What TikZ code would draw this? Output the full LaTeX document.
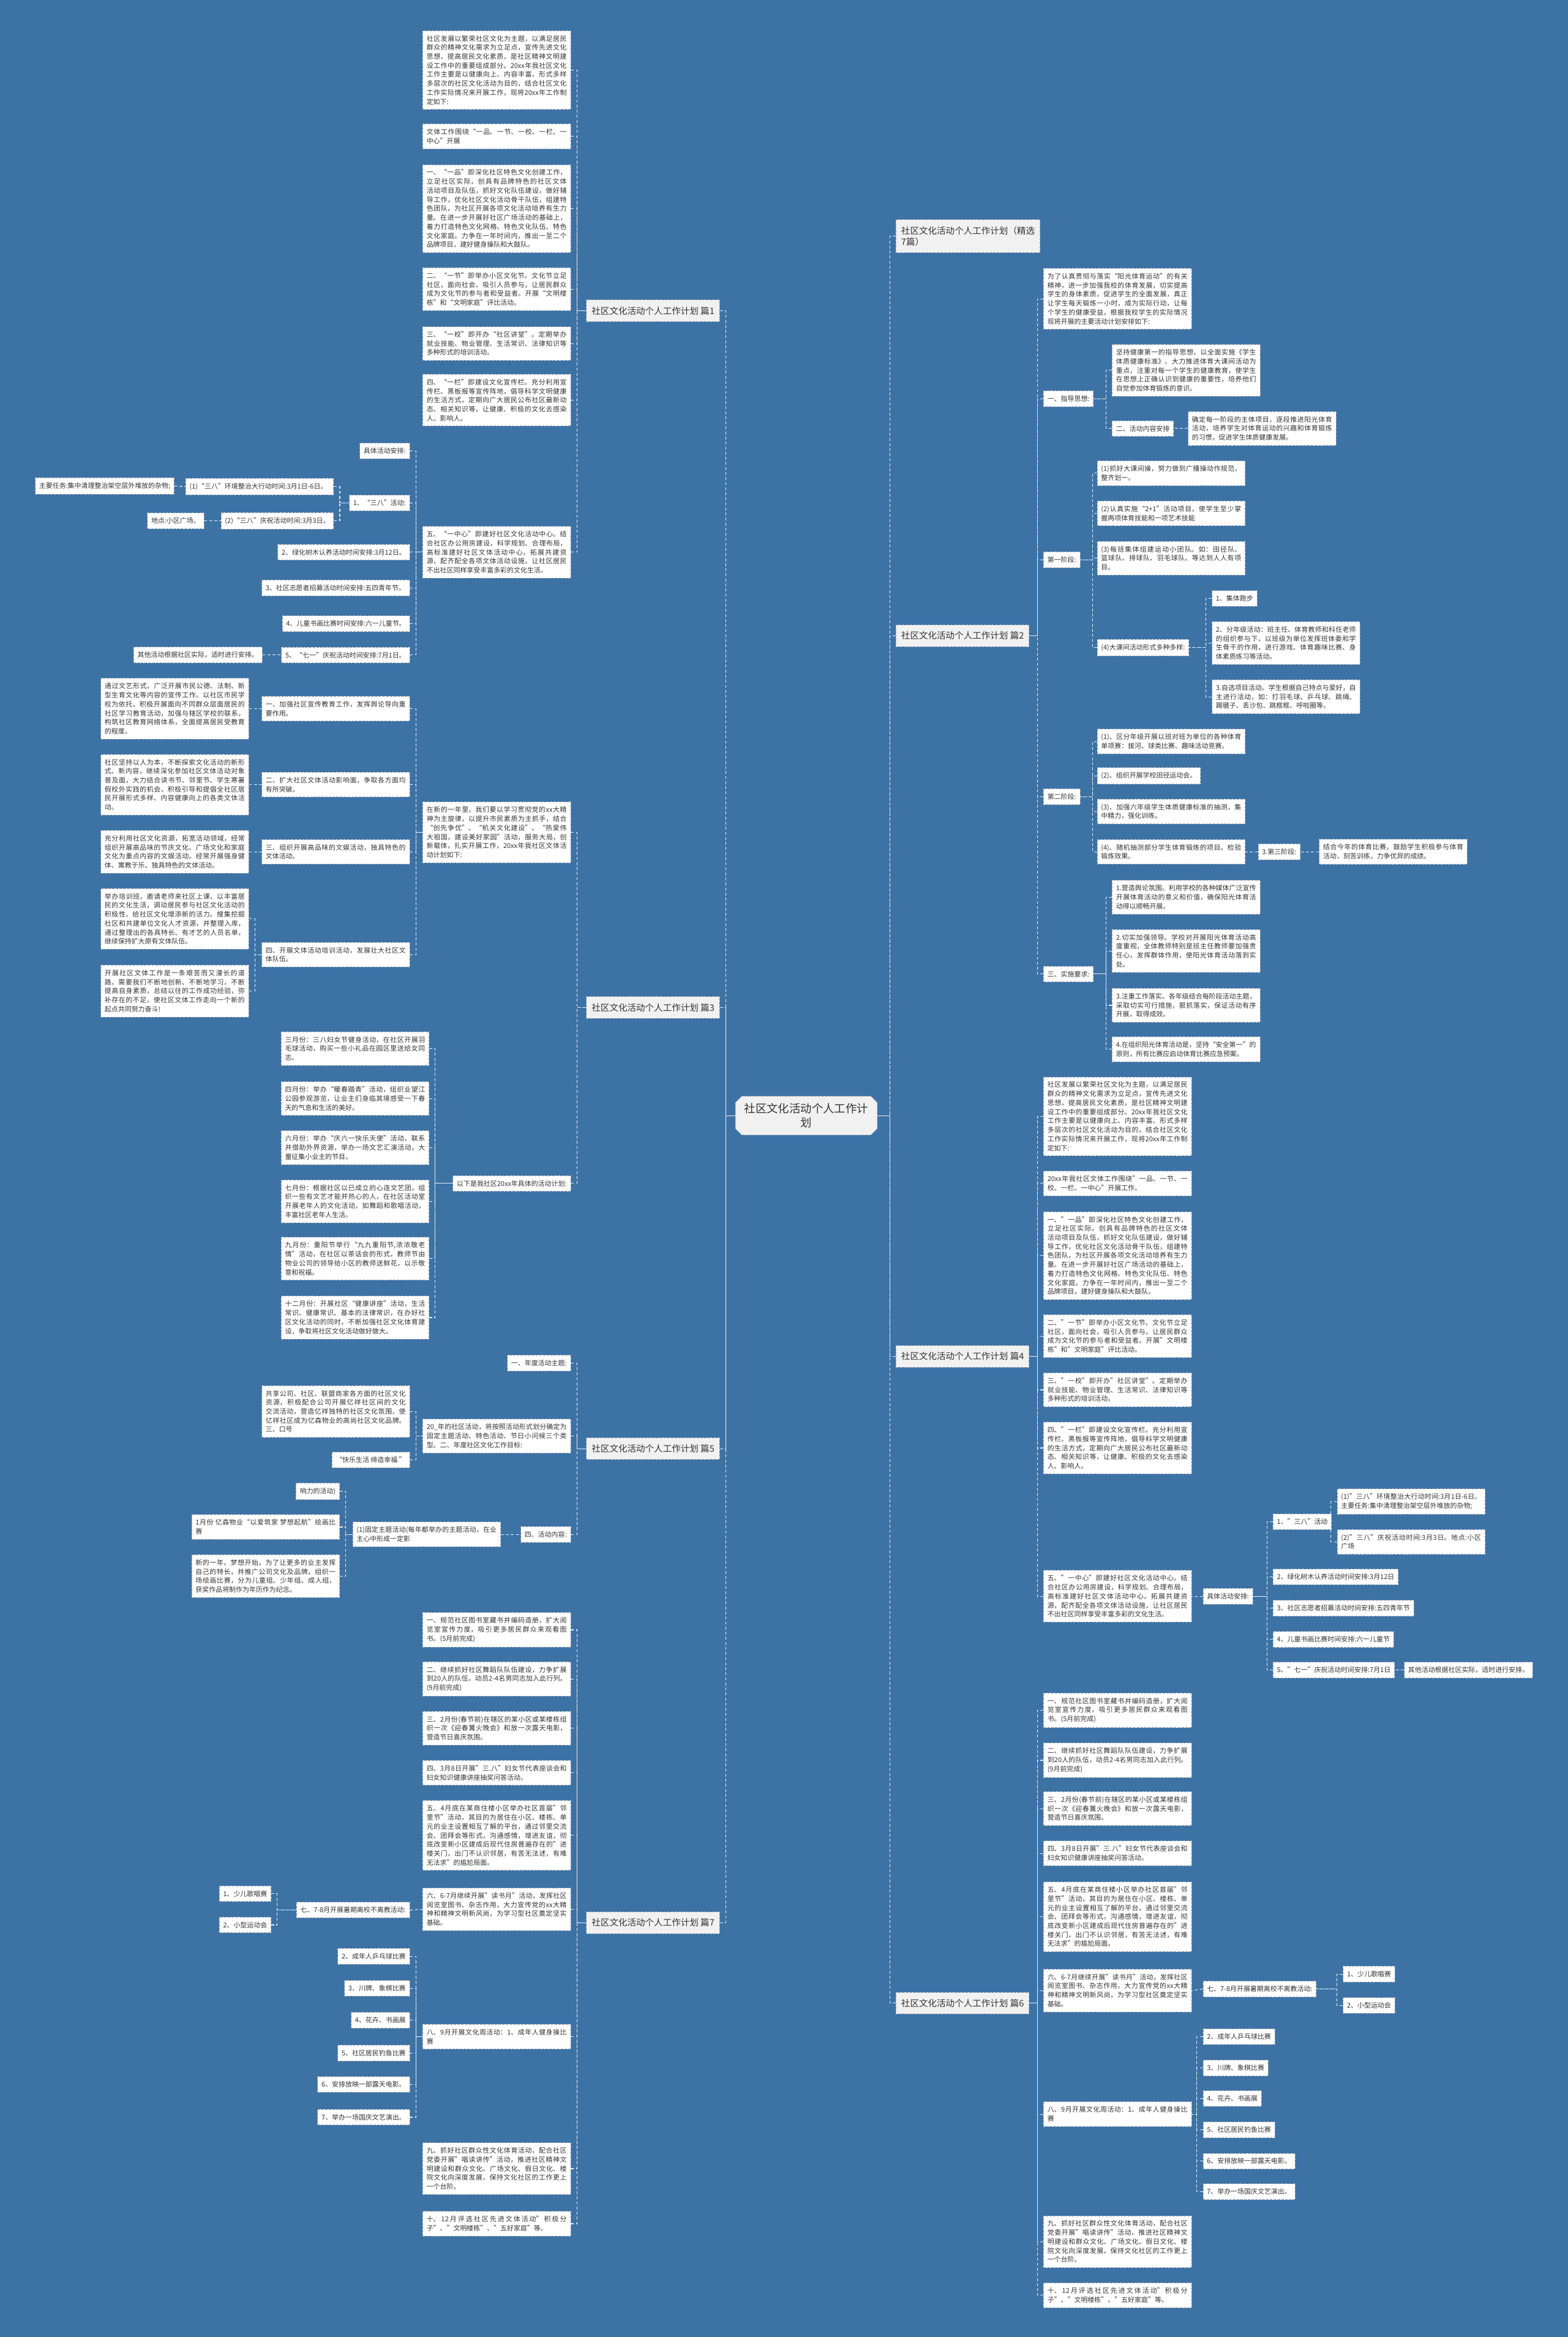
\documentclass[tikz,border=0pt]{standalone}
\usepackage{fontspec}
\setmainfont{Noto Sans CJK SC}
\XeTeXlinebreaklocale "zh"
\XeTeXlinebreakskip=0pt plus 1pt
\usepackage{tikz}
\usetikzlibrary{shapes.misc}

\definecolor{bgblue}{HTML}{3D72A5}
\definecolor{boxline}{HTML}{9AA6B4}
\definecolor{pianfill}{HTML}{F1F1F1}
\definecolor{txtgray}{HTML}{333333}
\definecolor{wirecol}{HTML}{E6EDF5}

\tikzset{
  wire/.style={draw=wirecol, line width=0.45mm, dash pattern=on 2mm off 1.4mm},
  boxbase/.style={draw=boxline, line width=0.35mm, dash pattern=on 1.6mm off 0.9mm,
    text=txtgray, fill=white, inner xsep=2.6mm, inner ysep=3.2mm,
    font=\fontsize{12.8pt}{17.2pt}\selectfont},
  leafbox/.style={boxbase, text width=94mm, align=justify},
  tagbox/.style={boxbase, align=left},
  lleaf/.style={leafbox, anchor=east},
  rleaf/.style={leafbox, anchor=west},
  ltag/.style={tagbox, anchor=east},
  rtag/.style={tagbox, anchor=west},
  pianbox/.style={boxbase, fill=pianfill, inner xsep=3.5mm, inner ysep=4.5mm,
    font=\fontsize{17pt}{21.3pt}\selectfont, align=left},
  hubnode/.style={boxbase, chamfered rectangle, chamfered rectangle xsep=3mm,
    fill=pianfill, align=center, inner xsep=3mm, inner ysep=3.5mm,
    font=\fontsize{21.5pt}{27pt}\selectfont},
}

\begin{document}
\begin{tikzpicture}[x=1mm, y=-1mm]
\fill[bgblue] (0,0) rectangle (1052,1568);
\useasboundingbox (0,0) rectangle (1052,1568);

% centre and the eight titles
\node[hubnode] (root) at (541,748.5) {社区文化活动个人工作计\\划};
\node[pianbox, anchor=west] (p0) at (601,158.5) {社区文化活动个人工作计划（精选\\7篇）};
\node[pianbox, anchor=west] (p2) at (601,426.5) {社区文化活动个人工作计划 篇2};
\node[pianbox, anchor=west] (p4) at (601,910) {社区文化活动个人工作计划 篇4};
\node[pianbox, anchor=west] (p6) at (601,1344) {社区文化活动个人工作计划 篇6};
\node[pianbox, anchor=east] (p1) at (483,208.5) {社区文化活动个人工作计划 篇1};
\node[pianbox, anchor=east] (p3) at (483,676) {社区文化活动个人工作计划 篇3};
\node[pianbox, anchor=east] (p5) at (483,972) {社区文化活动个人工作计划 篇5};
\node[pianbox, anchor=east] (p7) at (483,1290) {社区文化活动个人工作计划 篇7};

% 篇1
\node[lleaf] (p1a) at (383,47) {社区发展以繁荣社区文化为主题，以满足居民群众的精神文化需求为立足点，宣传先进文化思想，提高居民文化素质，是社区精神文明建设工作中的重要组成部分。20xx年我社区文化工作主要是以健康向上、内容丰富、形式多样多层次的社区文化活动为目的，结合社区文化工作实际情况来开展工作，现将20xx年工作制定如下:};
\node[lleaf] (p1b) at (383,91.5) {文体工作围绕“一品、一节、一校、一栏、一中心”开展};
\node[lleaf] (p1c) at (383,140) {一、“一品”即深化社区特色文化创建工作，立足社区实际，创具有品牌特色的社区文体活动项目及队伍，抓好文化队伍建设，做好辅导工作，优化社区文化活动骨干队伍，组建特色团队，为社区开展各项文化活动培养有生力量。在进一步开展好社区广场活动的基础上，着力打造特色文化网格、特色文化队伍、特色文化家庭。力争在一年时间内，推出一至二个品牌项目，建好健身操队和大鼓队。};
\node[lleaf] (p1d) at (383,194) {二、“一节”即举办小区文化节。文化节立足社区，面向社会，吸引人员参与，让居民群众成为文化节的参与者和受益者。开展“文明楼栋”和“文明家庭”评比活动。};
\node[lleaf] (p1e) at (383,230.5) {三、“一校”即开办“社区讲堂”。定期举办就业技能、物业管理、生活常识、法律知识等多种形式的培训活动。};
\node[lleaf] (p1f) at (383,268.5) {四、“一栏”即建设文化宣传栏。充分利用宣传栏、黑板报等宣传阵地，倡导科学文明健康的生活方式，定期向广大居民公布社区最新动态、相关知识等，让健康、积极的文化去感染人、影响人。};
\node[lleaf] (p1g) at (383,370.5) {五、“一中心”即建好社区文化活动中心。结合社区办公用房建设，科学规划、合理布局，高标准建好社区文体活动中心，拓展共建资源，配齐配全各项文体活动设施，让社区居民不出社区同样享受丰富多彩的文化生活。};
\node[ltag] (p1g1) at (275,302.5) {具体活动安排:};
\node[ltag] (p1g2) at (275,337.5) {1、“三八”活动:};
\node[lleaf] (p1g2a) at (224,326.5) {(1)“三八”环境整治大行动时间:3月1日-6日。};
\node[ltag] (p1g2a1) at (117,326) {主要任务:集中清理整治架空层外堆放的杂物;};
\node[ltag] (p1g2b) at (224,349.5) {(2)“三八”庆祝活动时间:3月3日。};
\node[ltag] (p1g2b1) at (137,349.5) {地点:小区广场。};
\node[ltag] (p1g3) at (275,370.5) {2、绿化树木认养活动时间安排:3月12日。};
\node[lleaf] (p1g4) at (275,394.5) {3、社区志愿者招募活动时间安排:五四青年节。};
\node[ltag] (p1g5) at (275,418.5) {4、儿童书画比赛时间安排:六一儿童节。};
\node[ltag] (p1g6) at (275,439.5) {5、“七一”庆祝活动时间安排:7月1日。};
\node[ltag] (p1g6a) at (176,439.5) {其他活动根据社区实际，适时进行安排。};

% 篇3
\node[lleaf] (p3a) at (383,558.5) {在新的一年里，我们要以学习贯彻党的xx大精神为主旋律，以提升市民素质为主抓手，结合“创先争优”、“机关文化建设”、“热爱伟大祖国，建设美好家园”活动，服务大局，创新载体，扎实开展工作，20xx年我社区文体活动计划如下:};
\node[lleaf] (p3a1) at (275,475.5) {一、加强社区宣传教育工作，发挥舆论导向重要作用。};
\node[lleaf] (p3a1a) at (167,475.5) {通过文艺形式，广泛开展市民公德、法制、新型生育文化等内容的宣传工作。以社区市民学校为依托，积极开展面向不同群众层面居民的社区学习教育活动，加强与辖区学校的联系，构筑社区教育网络体系，全面提高居民受教育的程度。};
\node[lleaf] (p3a2) at (275,526.5) {二、扩大社区文体活动影响面，争取各方面均有所突破。};
\node[lleaf] (p3a2a) at (167,526.5) {社区坚持以人为本，不断探索文化活动的新形式、新内容，继续深化参加社区文体活动对象普及面，大力结合读书节、邻里节、学生寒暑假校外实践的机会，积极引导和提倡全社区居民开展形式多样、内容健康向上的各类文体活动。};
\node[lleaf] (p3a3) at (275,571.5) {三、组织开展高品味的文娱活动，独具特色的文体活动。};
\node[lleaf] (p3a3a) at (167,571.5) {充分利用社区文化资源，拓宽活动领域，经常组织开展高品味的节庆文化、广场文化和家庭文化为重点内容的文娱活动。经常开展强身健体、寓教于乐、独具特色的文体活动。};
\node[lleaf] (p3a4) at (275,640.5) {四、开展文体活动培训活动，发展壮大社区文体队伍。};
\node[lleaf] (p3a4a) at (167,616.5) {举办培训班，邀请老师来社区上课，以丰富居民的文化生活，调动居民参与社区文化活动的积极性，给社区文化增添新的活力。搜集挖掘社区和共建单位文化人才资源，并整理入库，通过整理出的各具特长、有才艺的人员名单，继续保持扩大原有文体队伍。};
\node[lleaf] (p3a4b) at (167,665) {开展社区文体工作是一条艰苦而又漫长的道路，需要我们不断地创新、不断地学习，不断提高自身素质，总结以往的工作成功经验，弥补存在的不足，使社区文体工作走向一个新的起点共同努力奋斗!};
\node[ltag] (p3b) at (383,794) {以下是我社区20xx年具体的活动计划:};
\node[lleaf] (p3b1) at (288,703.5) {三月份：三八妇女节健身活动，在社区开展羽毛球活动，购买一些小礼品在园区里送给女同志。};
\node[lleaf] (p3b2) at (288,737) {四月份：举办“暖春踏青”活动，组织业望江公园参观游览，让业主们身临其境感受一下春天的气息和生活的美好。};
\node[lleaf] (p3b3) at (288,770) {六月份：举办“庆六一快乐天使”活动，联系并借助外界资源，举办一场文艺汇演活动，大量征集小业主的节目。};
\node[lleaf] (p3b4) at (288,806) {七月份：根据社区以已成立的心连文艺团，组织一些有文艺才能并热心的人，在社区活动室开展老年人的文化活动，如舞蹈和歌唱活动，丰富社区老年人生活。};
\node[lleaf] (p3b5) at (288,844.5) {九月份：重阳节举行“九九重阳节,浓浓敬老情”活动，在社区以茶话会的形式，教师节由物业公司的领导给小区的教师送鲜花，以示敬意和祝福。};
\node[lleaf] (p3b6) at (288,884) {十二月份：开展社区“健康讲座”活动，生活常识、健康常识、基本的法律常识，在办好社区文化活动的同时，不断加强社区文化体育建设，争取将社区文化活动做好做大。};

% 篇5
\node[ltag] (p5a) at (383,914.5) {一、年度活动主题:};
\node[lleaf] (p5b) at (383,963.5) {20\_年的社区活动，将按照活动形式划分确定为固定主题活动、特色活动、节日小问候三个类型。二、年度社区文化工作目标:};
\node[lleaf] (p5b1) at (275,947) {共享公司、社区、联盟商家各方面的社区文化资源，积极配合公司开展亿祥社区间的文化交流活动，营造亿祥独特的社区文化氛围，使亿祥社区成为亿森物业的高尚社区文化品牌。三、口号};
\node[ltag] (p5b2) at (275,979.5) {“快乐生活 缔造幸福 ”};
\node[ltag] (p5c) at (383,1029.5) {四、活动内容:};
\node[lleaf] (p5c1) at (336,1029.5) {(1)固定主题活动(每年都举办的主题活动，在业主心中形成一定影};
\node[ltag] (p5c1a) at (228,1000.5) {响力的活动)};
\node[lleaf] (p5c1b) at (228,1024.5) {1月份 亿森物业“以爱筑家 梦想起航”绘画比赛};
\node[lleaf] (p5c1c) at (228,1057.5) {新的一年，梦想开始，为了让更多的业主发挥自己的特长，并推广公司文化及品牌，组织一场绘画比赛，分为儿童组、少年组、成人组，获奖作品将制作为年历作为纪念。};

% 篇7
\node[lleaf] (p7a) at (383,1093.5) {一、规范社区图书室藏书并编码造册，扩大阅览室宣传力度，吸引更多居民群众来观看图书。(5月前完成)};
\node[lleaf] (p7b) at (383,1126.5) {二、继续抓好社区舞蹈队队伍建设，力争扩展到20人的队伍，动员2-4名男同志加入此行列。(9月前完成)};
\node[lleaf] (p7c) at (383,1159.5) {三、2月份(春节前)在辖区的某小区或某楼栋组织一次《迎春篝火晚会》和放一次露天电影，营造节日喜庆氛围。};
\node[lleaf] (p7d) at (383,1189.5) {四、3月8日开展"三.八"妇女节代表座谈会和妇女知识健康讲座抽奖问答活动。};
\node[lleaf] (p7e) at (383,1231.5) {五、4月底在某商住楼小区举办社区首届"邻里节"活动，其目的为居住在小区、楼栋、单元的业主设置相互了解的平台，通过邻里交流会、团拜会等形式，沟通感情，增进友谊，彻底改变新小区建成后现代住房普遍存在的"进楼关门，出门不认识邻居，有苦无法述，有难无法求"的尴尬局面。};
\node[lleaf] (p7f) at (383,1281) {六、6-7月继续开展"读书月"活动，发挥社区阅览室图书、杂志作用，大力宣传党的xx大精神和精神文明新风尚，为学习型社区奠定坚实基础。};
\node[ltag] (p7f1) at (275,1281.5) {七、7-8月开展暑期离校不离教活动:};
\node[ltag] (p7f1a) at (182,1270.5) {1、少儿歌唱赛};
\node[ltag] (p7f1b) at (182,1291.5) {2、小型运动会};
\node[lleaf] (p7g) at (383,1366.5) {八、9月开展文化周活动：1、成年人健身操比赛};
\node[ltag] (p7g1) at (275,1312.5) {2、成年人乒乓球比赛};
\node[ltag] (p7g2) at (275,1334) {3、川牌、象棋比赛};
\node[ltag] (p7g3) at (275,1355.5) {4、花卉、书画展};
\node[ltag] (p7g4) at (275,1377.5) {5、社区居民钓鱼比赛};
\node[ltag] (p7g5) at (275,1398.5) {6、安排放映一部露天电影。};
\node[ltag] (p7g6) at (275,1420.5) {7、举办一场国庆文艺演出。};
\node[lleaf] (p7h) at (383,1455) {九、抓好社区群众性文化体育活动，配合社区党委开展"唱读讲传"活动，推进社区精神文明建设和群众文化、广场文化、假日文化、楼院文化向深度发展，保持文化社区的工作更上一个台阶。};
\node[lleaf] (p7i) at (383,1492) {十、12月评选社区先进文体活动"积极分子"、"文明楼栋"、"五好家庭"等。};

% 篇2
\node[rleaf] (p2a) at (700,200.5) {为了认真贯彻与落实“阳光体育运动”的有关精神，进一步加强我校的体育发展，切实提高学生的身体素质，促进学生的全面发展，真正让学生每天锻炼一小时，成为实际行动，让每个学生的健康受益，根据我校学生的实际情况现将开展的主要活动计划安排如下:};
\node[rtag] (p2b) at (700,267.5) {一、指导思想:};
\node[rleaf] (p2b1) at (746,248.5) {坚持健康第一的指导思想，以全面实施《学生体质健康标准》、大力推进体育大课间活动为重点，注重对每一个学生的健康教育，使学生在思想上正确认识到健康的重要性，培养他们自觉参加体育锻炼的意识。};
\node[rtag] (p2b2) at (746,287.5) {二、活动内容安排};
\node[rleaf] (p2b2a) at (797,287.5) {确定每一阶段的主体项目，逐段推进阳光体育活动，培养学生对体育运动的兴趣和体育锻炼的习惯，促进学生体质健康发展。};
\node[rtag] (p2c) at (700,375.5) {第一阶段:};
\node[rleaf] (p2c1) at (736,317.5) {(1)抓好大课间操，努力做到广播操动作规范，整齐划一。};
\node[rleaf] (p2c2) at (736,344.5) {(2)认真实施“2+1”活动项目，使学生至少掌握两项体育技能和一项艺术技能};
\node[rleaf] (p2c3) at (736,374.5) {(3)每班集体组建运动小团队。如：田径队、篮球队、排球队、羽毛球队、等达到人人有项目。};
\node[rtag] (p2c4) at (736,434.5) {(4)大课间活动形式多种多样:};
\node[rtag] (p2c4a) at (813,401.5) {1、集体跑步};
\node[rleaf] (p2c4b) at (813,431.5) {2、分年级活动：班主任、体育教师和科任老师的组织参与下，以班级为单位发挥班体委和学生骨干的作用，进行游戏、体育趣味比赛、身体素质练习等活动。};
\node[rleaf] (p2c4c) at (813,467.5) {3.自选项目活动。学生根据自己特点与爱好，自主进行活动，如：打羽毛球、乒乓球、跳绳、踢毽子、丢沙包、跳框框、呼啦圈等。};
\node[rtag] (p2d) at (700,534.5) {第二阶段:};
\node[rleaf] (p2d1) at (736,497.5) {(1)、区分年级开展以班对班为单位的各种体育单项赛：拔河、球类比赛、趣味活动竞赛。};
\node[rtag] (p2d2) at (736,520.5) {(2)、组织开展学校田径运动会。};
\node[rleaf] (p2d3) at (736,544.5) {(3)、加强六年级学生体质健康标准的抽测，集中精力，强化训练。};
\node[rleaf] (p2d4) at (736,571.5) {(4)、随机抽测部分学生体育锻炼的项目。检验锻炼效果。};
\node[rtag] (p2d4a) at (844,571.5) {3.第三阶段:};
\node[rleaf] (p2d4a1) at (885,571.5) {结合今年的体育比赛，鼓励学生积极参与体育活动，刻苦训练，力争优异的成绩。};
\node[rtag] (p2e) at (700,653.5) {三、实施要求:};
\node[rleaf] (p2e1) at (746,602) {1.营造舆论氛围。利用学校的各种媒体广泛宣传开展体育活动的意义和价值，确保阳光体育活动得以顺畅开展。};
\node[rleaf] (p2e2) at (746,638) {2.切实加强领导。学校对开展阳光体育活动高度重视，全体教师特别是班主任教师要加强责任心，发挥群体作用，使阳光体育活动落到实处。};
\node[rleaf] (p2e3) at (746,674.5) {3.注重工作落实。各年级结合每阶段活动主题，采取切实可行措施，狠抓落实，保证活动有序开展，取得成效。};
\node[rleaf] (p2e4) at (746,704) {4.在组织阳光体育活动是，坚持“安全第一”的原则，所有比赛应启动体育比赛应急预案。};

% 篇4
\node[rleaf] (p4a) at (700,749) {社区发展以繁荣社区文化为主题，以满足居民群众的精神文化需求为立足点，宣传先进文化思想，提高居民文化素质，是社区精神文明建设工作中的重要组成部分。20xx年我社区文化工作主要是以健康向上、内容丰富、形式多样多层次的社区文化活动为目的，结合社区文化工作实际情况来开展工作，现将20xx年工作制定如下:};
\node[rleaf] (p4b) at (700,794) {20xx年我社区文体工作围绕"一品、一节、一校、一栏、一中心"开展工作。};
\node[rleaf] (p4c) at (700,842.5) {一、"一品"即深化社区特色文化创建工作，立足社区实际，创具有品牌特色的社区文体活动项目及队伍，抓好文化队伍建设，做好辅导工作，优化社区文化活动骨干队伍，组建特色团队，为社区开展各项文化活动培养有生力量。在进一步开展好社区广场活动的基础上，着力打造特色文化网格、特色文化队伍、特色文化家庭。力争在一年时间内，推出一至二个品牌项目，建好健身操队和大鼓队。};
\node[rleaf] (p4d) at (700,896.5) {二、"一节"即举办小区文化节。文化节立足社区，面向社会，吸引人员参与，让居民群众成为文化节的参与者和受益者。开展"文明楼栋"和"文明家庭"评比活动。};
\node[rleaf] (p4e) at (700,932.5) {三、"一校"即开办"社区讲堂"。定期举办就业技能、物业管理、生活常识、法律知识等多种形式的培训活动。};
\node[rleaf] (p4f) at (700,971.5) {四、"一栏"即建设文化宣传栏。充分利用宣传栏、黑板报等宣传阵地，倡导科学文明健康的生活方式，定期向广大居民公布社区最新动态、相关知识等，让健康、积极的文化去感染人、影响人。};
\node[rleaf] (p4g) at (700,1071) {五、"一中心"即建好社区文化活动中心。结合社区办公用房建设，科学规划、合理布局，高标准建好社区文体活动中心，拓展共建资源，配齐配全各项文体活动设施，让社区居民不出社区同样享受丰富多彩的文化生活。};
\node[rtag] (p4g1) at (807,1071) {具体活动安排:};
\node[rtag] (p4g1a) at (854,1021) {1、"三八"活动};
\node[rleaf] (p4g1a1) at (897,1007.5) {(1)"三八"环境整治大行动时间:3月1日-6日。主要任务:集中清理整治架空层外堆放的杂物;};
\node[rleaf] (p4g1a2) at (897,1034.5) {(2)"三八"庆祝活动时间:3月3日。地点:小区广场};
\node[rtag] (p4g1b) at (854,1058) {2、绿化树木认养活动时间安排:3月12日};
\node[rtag] (p4g1c) at (854,1079) {3、社区志愿者招募活动时间安排:五四青年节};
\node[rtag] (p4g1d) at (854,1100) {4、儿童书画比赛时间安排:六一儿童节};
\node[rtag] (p4g1e) at (854,1120.5) {5、"七一"庆祝活动时间安排:7月1日};
\node[rtag] (p4g1e1) at (942,1120.5) {其他活动根据社区实际，适时进行安排。};

% 篇6
\node[rleaf] (p6a) at (700,1147.5) {一、规范社区图书室藏书并编码造册，扩大阅览室宣传力度，吸引更多居民群众来观看图书。(5月前完成)};
\node[rleaf] (p6b) at (700,1181) {二、继续抓好社区舞蹈队队伍建设，力争扩展到20人的队伍，动员2-4名男同志加入此行列。(9月前完成)};
\node[rleaf] (p6c) at (700,1213.5) {三、2月份(春节前)在辖区的某小区或某楼栋组织一次《迎春篝火晚会》和放一次露天电影，营造节日喜庆氛围。};
\node[rleaf] (p6d) at (700,1243.5) {四、3月8日开展"三.八"妇女节代表座谈会和妇女知识健康讲座抽奖问答活动。};
\node[rleaf] (p6e) at (700,1286) {五、4月底在某商住楼小区举办社区首届"邻里节"活动，其目的为居住在小区、楼栋、单元的业主设置相互了解的平台，通过邻里交流会、团拜会等形式，沟通感情，增进友谊，彻底改变新小区建成后现代住房普遍存在的"进楼关门，出门不认识邻居，有苦无法述，有难无法求"的尴尬局面。};
\node[rleaf] (p6f) at (700,1335.5) {六、6-7月继续开展"读书月"活动，发挥社区阅览室图书、杂志作用，大力宣传党的xx大精神和精神文明新风尚，为学习型社区奠定坚实基础。};
\node[rtag] (p6f1) at (807,1334.5) {七、7-8月开展暑期离校不离教活动:};
\node[rtag] (p6f1a) at (901,1324.5) {1、少儿歌唱赛};
\node[rtag] (p6f1b) at (901,1345.5) {2、小型运动会};
\node[rleaf] (p6g) at (700,1418.5) {八、9月开展文化周活动：1、成年人健身操比赛};
\node[rtag] (p6g1) at (807,1366.5) {2、成年人乒乓球比赛};
\node[rtag] (p6g2) at (807,1387.5) {3、川牌、象棋比赛};
\node[rtag] (p6g3) at (807,1408) {4、花卉、书画展};
\node[rtag] (p6g4) at (807,1429) {5、社区居民钓鱼比赛};
\node[rtag] (p6g5) at (807,1450) {6、安排放映一部露天电影。};
\node[rtag] (p6g6) at (807,1470.5) {7、举办一场国庆文艺演出。};
\node[rleaf] (p6h) at (700,1504) {九、抓好社区群众性文化体育活动，配合社区党委开展"唱读讲传"活动，推进社区精神文明建设和群众文化、广场文化、假日文化、楼院文化向深度发展，保持文化社区的工作更上一个台阶。};
\node[rleaf] (p6i) at (700,1540) {十、12月评选社区先进文体活动"积极分子"、"文明楼栋"、"五好家庭"等。};

% connectors, left half
\draw[wire] (p1.east) -- ++(4,0) |- (root.west);
\draw[wire] (p3.east) -- ++(4,0) |- (root.west);
\draw[wire] (p5.east) -- ++(4,0) |- (root.west);
\draw[wire] (p7.east) -- ++(4,0) |- (root.west);
\draw[wire] (p1a.east) -- ++(4,0) |- (p1.west);
\draw[wire] (p1b.east) -- ++(4,0) |- (p1.west);
\draw[wire] (p1c.east) -- ++(4,0) |- (p1.west);
\draw[wire] (p1d.east) -- ++(4,0) |- (p1.west);
\draw[wire] (p1e.east) -- ++(4,0) |- (p1.west);
\draw[wire] (p1f.east) -- ++(4,0) |- (p1.west);
\draw[wire] (p1g.east) -- ++(4,0) |- (p1.west);
\draw[wire] (p1g1.east) -- ++(4,0) |- (p1g.west);
\draw[wire] (p1g2.east) -- ++(4,0) |- (p1g.west);
\draw[wire] (p1g3.east) -- ++(4,0) |- (p1g.west);
\draw[wire] (p1g4.east) -- ++(4,0) |- (p1g.west);
\draw[wire] (p1g5.east) -- ++(4,0) |- (p1g.west);
\draw[wire] (p1g6.east) -- ++(4,0) |- (p1g.west);
\draw[wire] (p1g2a.east) -- ++(4,0) |- (p1g2.west);
\draw[wire] (p1g2b.east) -- ++(4,0) |- (p1g2.west);
\draw[wire] (p1g2a1.east) -- (p1g2a.west);
\draw[wire] (p1g2b1.east) -- (p1g2b.west);
\draw[wire] (p1g6a.east) -- (p1g6.west);
\draw[wire] (p3a.east) -- ++(4,0) |- (p3.west);
\draw[wire] (p3b.east) -- ++(4,0) |- (p3.west);
\draw[wire] (p3a1.east) -- ++(4,0) |- (p3a.west);
\draw[wire] (p3a2.east) -- ++(4,0) |- (p3a.west);
\draw[wire] (p3a3.east) -- ++(4,0) |- (p3a.west);
\draw[wire] (p3a4.east) -- ++(4,0) |- (p3a.west);
\draw[wire] (p3a1a.east) -- (p3a1.west);
\draw[wire] (p3a2a.east) -- (p3a2.west);
\draw[wire] (p3a3a.east) -- (p3a3.west);
\draw[wire] (p3a4a.east) -- ++(4,0) |- (p3a4.west);
\draw[wire] (p3a4b.east) -- ++(4,0) |- (p3a4.west);
\draw[wire] (p3b1.east) -- ++(4,0) |- (p3b.west);
\draw[wire] (p3b2.east) -- ++(4,0) |- (p3b.west);
\draw[wire] (p3b3.east) -- ++(4,0) |- (p3b.west);
\draw[wire] (p3b4.east) -- ++(4,0) |- (p3b.west);
\draw[wire] (p3b5.east) -- ++(4,0) |- (p3b.west);
\draw[wire] (p3b6.east) -- ++(4,0) |- (p3b.west);
\draw[wire] (p5a.east) -- ++(4,0) |- (p5.west);
\draw[wire] (p5b.east) -- ++(4,0) |- (p5.west);
\draw[wire] (p5c.east) -- ++(4,0) |- (p5.west);
\draw[wire] (p5b1.east) -- ++(4,0) |- (p5b.west);
\draw[wire] (p5b2.east) -- ++(4,0) |- (p5b.west);
\draw[wire] (p5c1.east) -- (p5c.west);
\draw[wire] (p5c1a.east) -- ++(4,0) |- (p5c1.west);
\draw[wire] (p5c1b.east) -- ++(4,0) |- (p5c1.west);
\draw[wire] (p5c1c.east) -- ++(4,0) |- (p5c1.west);
\draw[wire] (p7a.east) -- ++(4,0) |- (p7.west);
\draw[wire] (p7b.east) -- ++(4,0) |- (p7.west);
\draw[wire] (p7c.east) -- ++(4,0) |- (p7.west);
\draw[wire] (p7d.east) -- ++(4,0) |- (p7.west);
\draw[wire] (p7e.east) -- ++(4,0) |- (p7.west);
\draw[wire] (p7f.east) -- ++(4,0) |- (p7.west);
\draw[wire] (p7g.east) -- ++(4,0) |- (p7.west);
\draw[wire] (p7h.east) -- ++(4,0) |- (p7.west);
\draw[wire] (p7i.east) -- ++(4,0) |- (p7.west);
\draw[wire] (p7f1.east) -- (p7f.west);
\draw[wire] (p7f1a.east) -- ++(4,0) |- (p7f1.west);
\draw[wire] (p7f1b.east) -- ++(4,0) |- (p7f1.west);
\draw[wire] (p7g1.east) -- ++(4,0) |- (p7g.west);
\draw[wire] (p7g2.east) -- ++(4,0) |- (p7g.west);
\draw[wire] (p7g3.east) -- ++(4,0) |- (p7g.west);
\draw[wire] (p7g4.east) -- ++(4,0) |- (p7g.west);
\draw[wire] (p7g5.east) -- ++(4,0) |- (p7g.west);
\draw[wire] (p7g6.east) -- ++(4,0) |- (p7g.west);

% connectors, right half
\draw[wire] (p0.west) -- ++(-4,0) |- (root.east);
\draw[wire] (p2.west) -- ++(-4,0) |- (root.east);
\draw[wire] (p4.west) -- ++(-4,0) |- (root.east);
\draw[wire] (p6.west) -- ++(-4,0) |- (root.east);
\draw[wire] (p2a.west) -- ++(-4,0) |- (p2.east);
\draw[wire] (p2b.west) -- ++(-4,0) |- (p2.east);
\draw[wire] (p2c.west) -- ++(-4,0) |- (p2.east);
\draw[wire] (p2d.west) -- ++(-4,0) |- (p2.east);
\draw[wire] (p2e.west) -- ++(-4,0) |- (p2.east);
\draw[wire] (p2b1.west) -- ++(-4,0) |- (p2b.east);
\draw[wire] (p2b2.west) -- ++(-4,0) |- (p2b.east);
\draw[wire] (p2b2a.west) -- (p2b2.east);
\draw[wire] (p2c1.west) -- ++(-3,0) |- (p2c.east);
\draw[wire] (p2c2.west) -- ++(-3,0) |- (p2c.east);
\draw[wire] (p2c3.west) -- ++(-3,0) |- (p2c.east);
\draw[wire] (p2c4.west) -- ++(-3,0) |- (p2c.east);
\draw[wire] (p2c4a.west) -- ++(-4,0) |- (p2c4.east);
\draw[wire] (p2c4b.west) -- ++(-4,0) |- (p2c4.east);
\draw[wire] (p2c4c.west) -- ++(-4,0) |- (p2c4.east);
\draw[wire] (p2d1.west) -- ++(-3,0) |- (p2d.east);
\draw[wire] (p2d2.west) -- ++(-3,0) |- (p2d.east);
\draw[wire] (p2d3.west) -- ++(-3,0) |- (p2d.east);
\draw[wire] (p2d4.west) -- ++(-3,0) |- (p2d.east);
\draw[wire] (p2d4a.west) -- (p2d4.east);
\draw[wire] (p2d4a1.west) -- (p2d4a.east);
\draw[wire] (p2e1.west) -- ++(-4,0) |- (p2e.east);
\draw[wire] (p2e2.west) -- ++(-4,0) |- (p2e.east);
\draw[wire] (p2e3.west) -- ++(-4,0) |- (p2e.east);
\draw[wire] (p2e4.west) -- ++(-4,0) |- (p2e.east);
\draw[wire] (p4a.west) -- ++(-4,0) |- (p4.east);
\draw[wire] (p4b.west) -- ++(-4,0) |- (p4.east);
\draw[wire] (p4c.west) -- ++(-4,0) |- (p4.east);
\draw[wire] (p4d.west) -- ++(-4,0) |- (p4.east);
\draw[wire] (p4e.west) -- ++(-4,0) |- (p4.east);
\draw[wire] (p4f.west) -- ++(-4,0) |- (p4.east);
\draw[wire] (p4g.west) -- ++(-4,0) |- (p4.east);
\draw[wire] (p4g1.west) -- (p4g.east);
\draw[wire] (p4g1a.west) -- ++(-4,0) |- (p4g1.east);
\draw[wire] (p4g1b.west) -- ++(-4,0) |- (p4g1.east);
\draw[wire] (p4g1c.west) -- ++(-4,0) |- (p4g1.east);
\draw[wire] (p4g1d.west) -- ++(-4,0) |- (p4g1.east);
\draw[wire] (p4g1e.west) -- ++(-4,0) |- (p4g1.east);
\draw[wire] (p4g1a1.west) -- ++(-4,0) |- (p4g1a.east);
\draw[wire] (p4g1a2.west) -- ++(-4,0) |- (p4g1a.east);
\draw[wire] (p4g1e1.west) -- (p4g1e.east);
\draw[wire] (p6a.west) -- ++(-4,0) |- (p6.east);
\draw[wire] (p6b.west) -- ++(-4,0) |- (p6.east);
\draw[wire] (p6c.west) -- ++(-4,0) |- (p6.east);
\draw[wire] (p6d.west) -- ++(-4,0) |- (p6.east);
\draw[wire] (p6e.west) -- ++(-4,0) |- (p6.east);
\draw[wire] (p6f.west) -- ++(-4,0) |- (p6.east);
\draw[wire] (p6g.west) -- ++(-4,0) |- (p6.east);
\draw[wire] (p6h.west) -- ++(-4,0) |- (p6.east);
\draw[wire] (p6i.west) -- ++(-4,0) |- (p6.east);
\draw[wire] (p6f1.west) -- (p6f.east);
\draw[wire] (p6f1a.west) -- ++(-4,0) |- (p6f1.east);
\draw[wire] (p6f1b.west) -- ++(-4,0) |- (p6f1.east);
\draw[wire] (p6g1.west) -- ++(-4,0) |- (p6g.east);
\draw[wire] (p6g2.west) -- ++(-4,0) |- (p6g.east);
\draw[wire] (p6g3.west) -- ++(-4,0) |- (p6g.east);
\draw[wire] (p6g4.west) -- ++(-4,0) |- (p6g.east);
\draw[wire] (p6g5.west) -- ++(-4,0) |- (p6g.east);
\draw[wire] (p6g6.west) -- ++(-4,0) |- (p6g.east);
\end{tikzpicture}
\end{document}
